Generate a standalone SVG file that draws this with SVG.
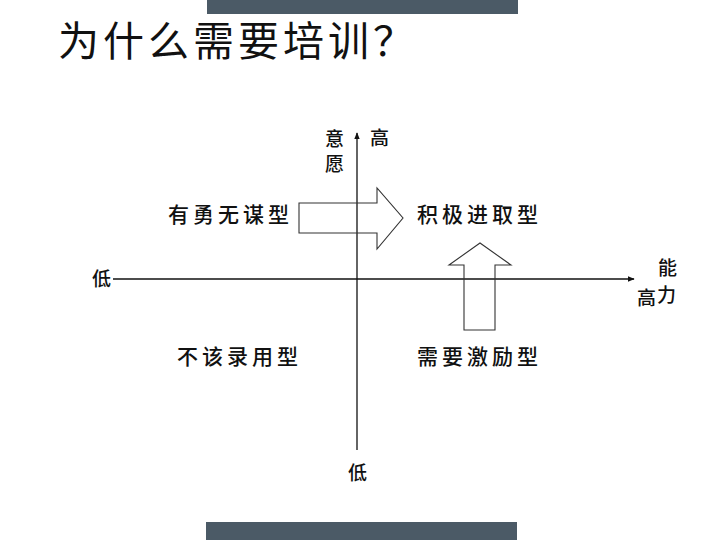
<svg xmlns="http://www.w3.org/2000/svg" width="720" height="540" viewBox="0 0 720 540">
<style>
.t{font-family:"Noto Sans CJK SC","Noto Sans CJK JP",sans-serif;fill:#111;}
.lbl{font-size:21px;letter-spacing:4px;font-weight:500;}
.ax{font-size:19px;font-weight:500;}
.axis{stroke:#111;stroke-width:1.3;fill:none;}
.blk{stroke:#333;stroke-width:1.1;fill:none;stroke-linejoin:miter;}
.bar{fill:#4b5a66;}
</style>
<defs>
<marker id="ah" viewBox="0 0 10 10" refX="9" refY="5" markerWidth="7" markerHeight="7" orient="auto" markerUnits="userSpaceOnUse">
<path d="M0,1 L10,5 L0,9 Z" fill="#111"/>
</marker>
</defs>
<rect width="720" height="540" fill="#fff"/>
<rect class="bar" x="207" y="0" width="311" height="14"/>
<rect class="bar" x="206" y="522" width="311" height="18"/>
<g id="title"><text class="t" x="58" y="56" font-size="41" letter-spacing="4">为什么需要培训？</text></g>
<g id="connectors">
<line class="axis" x1="357" y1="450" x2="357" y2="133" marker-end="url(#ah)"/>
<line class="axis" x1="113" y1="279" x2="634" y2="279" marker-end="url(#ah)"/>
<polygon class="blk" points="299,203 377,203 377,188 403,218 377,249 377,233 299,233"/>
<polygon class="blk" points="464,330 495,330 495,265 511,265 480,243 449,265 464,265"/>
</g>
<g id="axis-labels">
<text class="t ax" x="325" y="146">意</text>
<text class="t ax" x="325" y="171">愿</text>
<text class="t ax" x="370" y="145">高</text>
<text class="t ax" x="92" y="286">低</text>
<text class="t ax" x="658" y="275">能</text>
<text class="t ax" x="657" y="302">力</text>
<text class="t ax" x="637" y="305">高</text>
<text class="t ax" x="348" y="480">低</text>
</g>
<g id="node-youyongwumou"><text class="t lbl" x="168" y="222">有勇无谋型</text></g>
<g id="node-jijijinqu"><text class="t lbl" x="417" y="222">积极进取型</text></g>
<g id="node-bugailuyong"><text class="t lbl" x="177" y="364">不该录用型</text></g>
<g id="node-xuyaojili"><text class="t lbl" x="417" y="364">需要激励型</text></g>
</svg>
